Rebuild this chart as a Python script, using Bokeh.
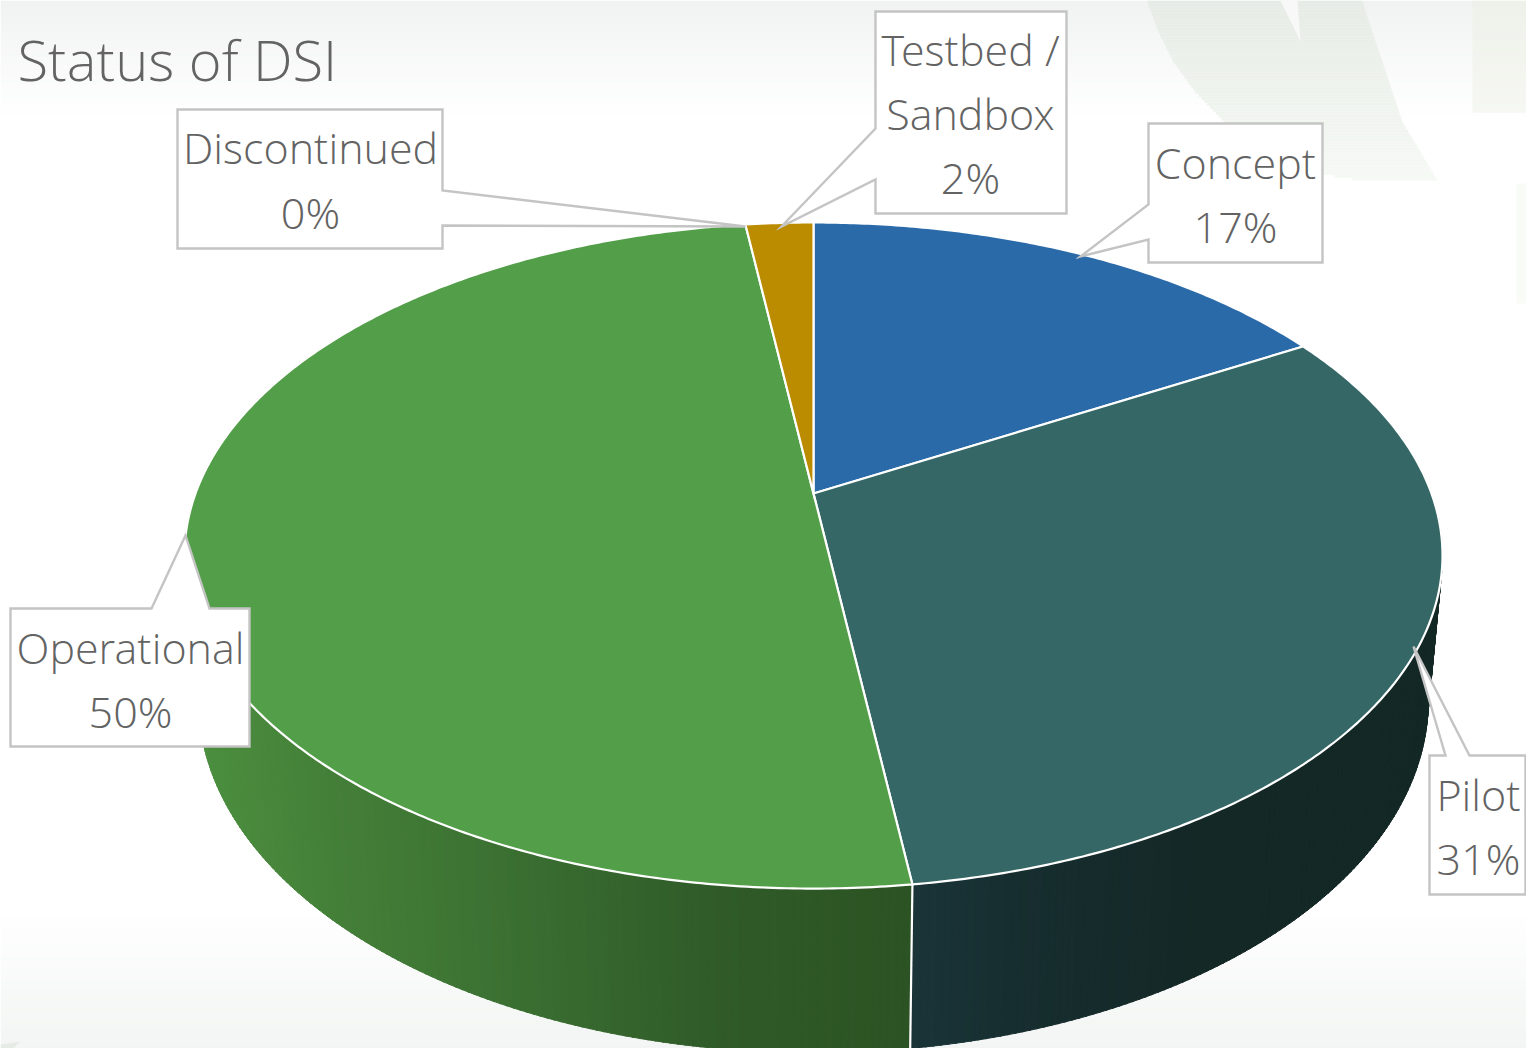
import numpy as np
from bokeh.plotting import figure
from bokeh.models import Range1d
from bokeh.core.properties import value
from bokeh.embed import file_html
from bokeh.resources import INLINE

# ---- data ----
title_text = "Status of DSI"
categories = ["Concept", "Pilot", "Operational", "Discontinued", "Testbed / Sandbox"]
counts = [8, 15, 24, 0, 1]
percent_labels = ["17%", "31%", "50%", "0%", "2%"]
top_colors = ["#2a6aa9", "#346765", "#539e48", "#7a7a7a", "#bb8c00"]

# ---- layout ----
W, H = 1526, 1048
FONT = value("Open Sans Light")
TEXT = "#636363"
BORDER = "#c4c4c4"
LABEL_PX = 43
TITLE_PX = 56

p = figure(width=W, height=H, output_backend="svg", toolbar_location=None,
           x_range=Range1d(0, W), y_range=Range1d(H, 0),
           min_border=0, outline_line_color=None, background_fill_color="white",
           border_fill_color="white")
p.xaxis.visible = False
p.yaxis.visible = False
p.grid.visible = False


def hexmix(c1, c2, t):
    a = np.array([int(c1[i:i + 2], 16) for i in (1, 3, 5)], float)
    b = np.array([int(c2[i:i + 2], 16) for i in (1, 3, 5)], float)
    r = a + (b - a) * t
    return "#%02x%02x%02x" % tuple(int(round(v)) for v in r)


# background bands
step = 4
ys = np.arange(0, 1052, step)
cols = []
for y in ys:
    if y < 118:
        cols.append(hexmix("#f1f3f2", "#ffffff", y / 118))
    elif y > 905:
        cols.append(hexmix("#ffffff", "#f2f5f3", (y - 905) / 143))
    else:
        cols.append("#ffffff")
p.quad(left=0, right=1530, top=ys, bottom=ys + step + 0.5, fill_color=cols, line_color=None)

# faint leaf shapes behind the chart
leaf_y = np.array([0, 30, 60, 90, 120, 150, 170, 180])
leaf_l = np.array([1147, 1158, 1173, 1195, 1224, 1265, 1310, 1370])
leaf_r = np.array([1362, 1372, 1382, 1392, 1402, 1420, 1432, 1438])
ly = np.arange(0, 180, 3)
ll = np.interp(ly, leaf_y, leaf_l)
lr = np.interp(ly, leaf_y, leaf_r)
lc = [hexmix("#e6ece5", "#f6f9f5", v / 180) for v in ly]
p.quad(left=ll, right=lr, top=ly, bottom=ly + 3.3, fill_color=lc, line_color=None)
p.patch([1280, 1297, 1300], [0, 0, 41], fill_color="#f7f8f7", line_color=None)
rect_y = np.arange(0, 111, 4)
p.quad(left=1472, right=1530, top=rect_y, bottom=rect_y + 4.3,
       fill_color=[hexmix("#eef0ea", "#f6f7f2", v / 111) for v in rect_y], line_color=None)
p.quad(left=[1516], right=[1530], top=[183], bottom=[303], fill_color="#f9fbf6", line_color=None)
p.patch([0, 20, 8, 0], [1044, 1041, 1052, 1052], fill_color="#e6ece5", line_color=None)

# projected circles (top face, bottom face)
K = 0.1862


def project(theta_deg, x0, y0, a, b):
    t = np.radians(theta_deg)
    u, v = np.sin(t), np.cos(t)
    d = 1 + K * v
    return x0 + a * u / d, y0 - b * v / d


TOP = (813, 493, 618, 321.5)
BOT = (813, 634.5, 604, 340)

total = sum(counts)
edges = np.cumsum([0] + counts) / total * 360.0

# side wall: thin strips, shaded by horizontal position
side_stops = {
    "Pilot": ([820, 915, 1010, 1200, 1450], ["#1a3438", "#1a3438", "#172e30", "#142826", "#142826"]),
    "Operational": ([190, 330, 500, 700, 910], ["#4c8f40", "#447f38", "#3b7032", "#305c29", "#2c5323"]),
}


def side_color(name, x):
    xs, cs = side_stops[name]
    i = min(np.searchsorted(xs, x), len(xs) - 1)
    i = max(i, 1)
    t = np.clip((x - xs[i - 1]) / (xs[i] - xs[i - 1]), 0, 1)
    return hexmix(cs[i - 1], cs[i], t)


sx, sy, sc = [], [], []
for i, name in enumerate(categories):
    if name not in side_stops:
        continue
    a0, a1 = edges[i], edges[i + 1]
    lo = max(a0, 80.0)
    hi = min(a1, 285.0)
    tt = np.arange(lo, hi, 0.6)
    for t in tt:
        t2 = min(t + 0.75, hi)
        x1, y1 = project(np.array([t, t2]), *TOP)
        x2, y2 = project(np.array([t2, t]), *BOT)
        sx.append(list(x1) + list(x2))
        sy.append(list(y1) + list(y2))
        sc.append(side_color(name, float(np.mean(x1))))
p.patches(sx, sy, fill_color=sc, line_color=sc, line_width=1)

# white seam between the two side walls
seam = edges[categories.index("Pilot") + 1]
x1, y1 = project(np.array([seam]), *TOP)
x2, y2 = project(np.array([seam]), *BOT)
p.line([x1[0], x2[0]], [y1[0], y2[0]], line_color="white", line_width=2.2)

# top face
cx, cy = TOP[0], TOP[1]
for i, name in enumerate(categories):
    if counts[i] == 0:
        continue
    tt = np.linspace(edges[i], edges[i + 1], max(int(edges[i + 1] - edges[i]) * 2, 8))
    xs, ys_ = project(tt, *TOP)
    p.patch([cx] + list(xs), [cy] + list(ys_), fill_color=top_colors[i],
            line_color="white", line_width=2.2, line_join="miter")

# callouts: outline vertices in page pixels
callouts = [
    [(1148, 123), (1322, 123), (1322, 262), (1148, 262), (1148, 239), (1080, 256), (1148, 204)],
    [(1429, 755), (1445, 755), (1413, 646), (1469, 755), (1525, 755), (1525, 894), (1429, 894)],
    [(10, 608), (151, 608), (185, 535), (209, 608), (249, 608), (249, 746), (10, 746)],
    [(177, 109), (442, 109), (442, 190), (745, 226), (442, 225), (442, 248), (177, 248)],
    [(875, 11), (1066, 11), (1066, 213), (875, 213), (875, 179), (781, 226), (875, 128)],
]
for c in callouts:
    p.patch([q[0] for q in c], [q[1] for q in c], fill_color="white",
            line_color=BORDER, line_width=2.4, line_join="miter")

# label texts: centre x and line centres in page pixels
label_pos = [
    (1235, [181, 245]),
    (1478, [813, 877]),
    (130, [666, 730]),
    (310, [166, 231]),
    (970, [68, 132, 196]),
]
for i, (x, bases) in enumerate(label_pos):
    if categories[i] == "Testbed / Sandbox":
        lines = ["Testbed /", "Sandbox", percent_labels[i]]
    else:
        lines = [categories[i], percent_labels[i]]
    p.text(x=[x] * len(lines), y=[b - 0.357 * LABEL_PX - 4 for b in bases], text=lines, text_font=FONT,
           text_font_size=f"{LABEL_PX}px", text_color=TEXT, text_align="center",
           text_baseline="middle")

p.text(x=[17], y=[84 - 0.357 * TITLE_PX - 6], text=[title_text], text_font=FONT,
       text_font_size=f"{TITLE_PX}px", text_color=TEXT, text_align="left", text_baseline="middle")

open("out.html", "w").write(file_html(p, INLINE))
